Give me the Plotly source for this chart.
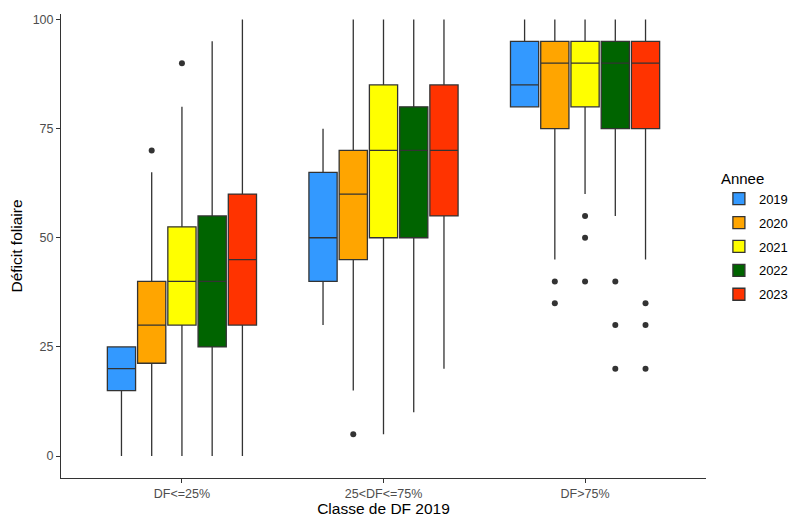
import plotly.graph_objects as go

categories = ["DF<=25%", "25<DF<=75%", "DF>75%"]
years = ["2019", "2020", "2021", "2022", "2023"]
colors = ["#3399FF", "#FFA500", "#FFFF00", "#006400", "#FF3300"]

# per year: values for each category
q1 = {
    "2019": [15, 40, 80],
    "2020": [21.25, 45, 75],
    "2021": [30, 50, 80],
    "2022": [25, 50, 75],
    "2023": [30, 55, 75],
}
median = {
    "2019": [20, 50, 85],
    "2020": [30, 60, 90],
    "2021": [40, 70, 90],
    "2022": [40, 70, 90],
    "2023": [45, 70, 90],
}
q3 = {
    "2019": [25, 65, 95],
    "2020": [40, 70, 95],
    "2021": [52.5, 85, 95],
    "2022": [55, 80, 95],
    "2023": [60, 85, 95],
}
lower = {
    "2019": [0, 30, 80],
    "2020": [0, 15, 45],
    "2021": [0, 5, 60],
    "2022": [0, 10, 55],
    "2023": [0, 20, 45],
}
upper = {
    "2019": [25, 75, 100],
    "2020": [65, 100, 100],
    "2021": [80, 100, 100],
    "2022": [95, 100, 100],
    "2023": [100, 100, 100],
}
# outliers: (category index, value)
outliers = {
    "2019": [],
    "2020": [(0, 70), (1, 5), (2, 40), (2, 35)],
    "2021": [(0, 90), (2, 55), (2, 50), (2, 40)],
    "2022": [(2, 40), (2, 30), (2, 20)],
    "2023": [(2, 35), (2, 30), (2, 20)],
}

dodge = 0.15
box_w = 0.14

fig = go.Figure()
for j, yr in enumerate(years):
    off = (j - 2) * dodge
    xs = [i + 1 + off for i in range(len(categories))]
    fig.add_trace(go.Box(
        name=yr, x=xs, legendgroup=yr,
        q1=q1[yr], median=median[yr], q3=q3[yr],
        lowerfence=lower[yr], upperfence=upper[yr],
        width=box_w, whiskerwidth=0,
        fillcolor=colors[j],
        line=dict(color="#333333", width=1.3),
        boxpoints=False, hoverinfo="skip",
    ))
for j, yr in enumerate(years):
    off = (j - 2) * dodge
    pts = outliers[yr]
    if pts:
        fig.add_trace(go.Scatter(
            x=[c + 1 + off for c, v in pts], y=[v for c, v in pts],
            mode="markers", showlegend=False, legendgroup=yr,
            marker=dict(color="#333333", size=6),
            hoverinfo="skip",
        ))

fig.update_layout(
    width=791, height=517,
    margin=dict(l=61, r=85, t=14, b=39, autoexpand=False),
    paper_bgcolor="white", plot_bgcolor="white",
    font=dict(family="Liberation Sans, Arial, sans-serif", color="black"),
    boxmode="overlay",
    legend=dict(
        title=dict(text="Annee", font=dict(size=15, color="black")),
        font=dict(size=13, color="black"),
        x=1.02, xanchor="left", y=0.52, yanchor="middle",
        tracegroupgap=4, itemwidth=30,
    ),
    xaxis=dict(
        range=[0.4, 3.6], tickmode="array", tickvals=[1, 2, 3], ticktext=categories,
        showline=True, linecolor="#333333", linewidth=1, showgrid=False, zeroline=False,
        ticks="outside", ticklen=4, tickcolor="#333333",
        tickfont=dict(size=12.5, color="#4D4D4D"),
        title=dict(text="Classe de DF 2019", font=dict(size=15.5, color="black"), standoff=3),
    ),
    yaxis=dict(
        range=[-5.04, 101.26], tickvals=[0, 25, 50, 75, 100],
        showline=True, linecolor="#333333", linewidth=1, showgrid=False, zeroline=False,
        ticks="outside", ticklen=4, tickcolor="#333333",
        tickfont=dict(size=12.5, color="#4D4D4D"),
        title=dict(text="Déficit foliaire", font=dict(size=15.5, color="black"), standoff=6),
    ),
)

fig.write_html(
    "out.html",
    config={"displayModeBar": False},
    post_script="document.body.style.margin='0';document.body.style.overflow='hidden';",
)
